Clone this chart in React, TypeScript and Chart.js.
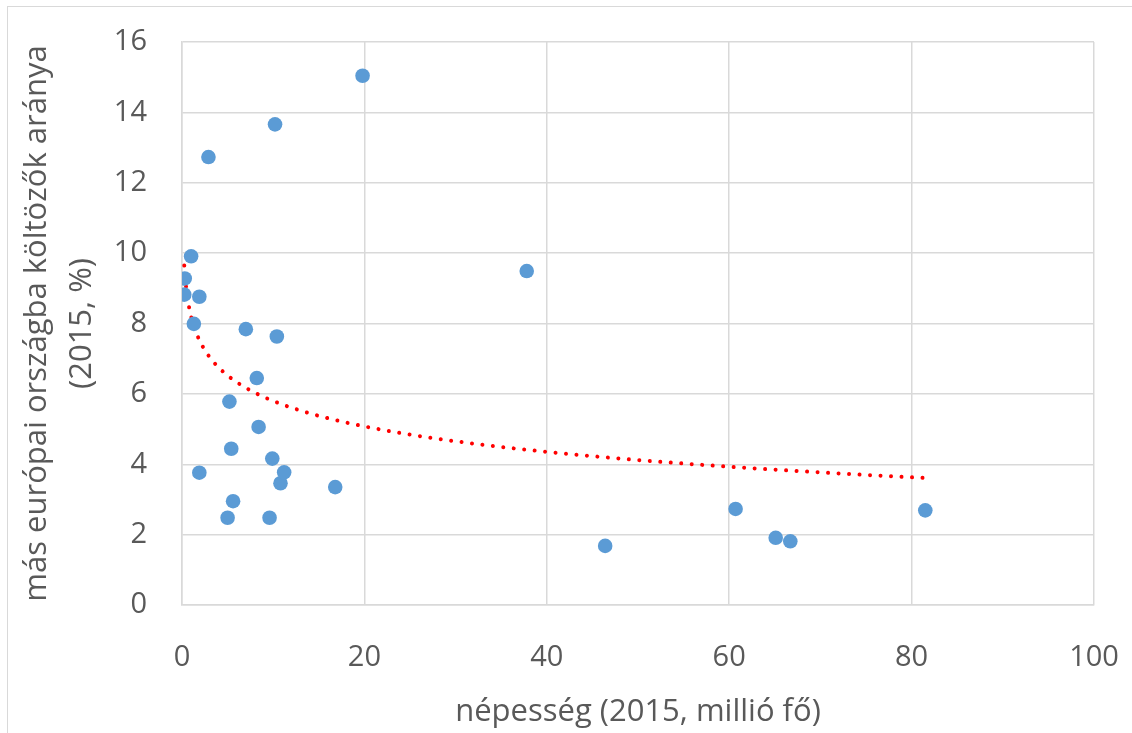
import React, { useEffect, useRef } from 'react';
import { Chart, registerables } from 'chart.js';

Chart.register(...registerables);

// population (2015, million) and share moving to another European country (2015, %)
const population = [
  0.25, 0.3, 1.0, 1.3, 1.9, 1.9, 2.9, 5.0, 5.2, 5.4, 5.6, 7.0, 8.2, 8.4,
  9.6, 9.9, 10.2, 10.4, 10.8, 11.2, 16.8, 19.8, 37.8, 46.4, 60.7, 65.1, 66.7, 81.5,
];
const emigrationShare = [
  8.82, 9.28, 9.91, 7.99, 8.76, 3.76, 12.73, 2.48, 5.78, 4.44, 2.95, 7.84, 6.45, 5.06,
  2.48, 4.16, 13.66, 7.63, 3.46, 3.77, 3.35, 15.04, 9.49, 1.68, 2.73, 1.91, 1.81, 2.69,
];

const xTicks = [0, 20, 40, 60, 80, 100];
const yTicks = [0, 2, 4, 6, 8, 10, 12, 14, 16];

const xTitle = 'népesség (2015, millió fő)';
const yTitle = ['más európai országba költözők aránya', '(2015, %)'];

const TEXT = '#595959';
const GRID = '#D9D9D9';
const FONT = "'Open Sans', sans-serif";

// logarithmic trendline, least squares on ln(x)
function logTrend(xs: number[], ys: number[]) {
  const n = xs.length;
  const lx = xs.map((v) => Math.log(v));
  const mx = lx.reduce((a, b) => a + b, 0) / n;
  const my = ys.reduce((a, b) => a + b, 0) / n;
  let sxy = 0;
  let sxx = 0;
  for (let i = 0; i < n; i++) {
    sxy += (lx[i] - mx) * (ys[i] - my);
    sxx += (lx[i] - mx) * (lx[i] - mx);
  }
  const a = sxy / sxx;
  const b = my - a * mx;
  const lo = Math.log(Math.min(...xs));
  const hi = Math.log(Math.max(...xs));
  const pts: { x: number; y: number }[] = [];
  for (let i = 0; i <= 200; i++) {
    const x = Math.exp(lo + ((hi - lo) * i) / 200);
    pts.push({ x, y: a * Math.log(x) + b });
  }
  return pts;
}

const App: React.FC = () => {
  const canvasRef = useRef<HTMLCanvasElement>(null);

  useEffect(() => {
    document.body.style.margin = '0';
    if (!canvasRef.current) return;
    const ctx = canvasRef.current.getContext('2d');
    if (!ctx) return;

    const chart = new Chart(ctx, {
      type: 'scatter',
      data: {
        datasets: [
          {
            type: 'line',
            data: logTrend(population, emigrationShare),
            borderColor: '#FF0000',
            borderWidth: 4,
            borderDash: [0.01, 10.5],
            borderCapStyle: 'round',
            pointRadius: 0,
            fill: false,
            tension: 0,
            order: 2,
          } as any,
          {
            data: population.map((x, i) => ({ x, y: emigrationShare[i] })),
            backgroundColor: '#5B9BD5',
            borderColor: '#5B9BD5',
            pointRadius: 7.3,
            borderWidth: 0,
            order: 1,
          },
        ],
      },
      options: {
        animation: false,
        responsive: false,
        layout: { padding: { left: 0, top: 42, right: 38, bottom: 0 } },
        plugins: { legend: { display: false }, tooltip: { enabled: false } },
        scales: {
          x: {
            type: 'linear',
            min: 0,
            max: 100,
            afterBuildTicks: (scale: any) => {
              scale.ticks = xTicks.map((value) => ({ value }));
            },
            afterFit: (scale: any) => {
              scale.height = 128;
            },
            grid: {
              color: GRID,
              lineWidth: 1.5,
              drawTicks: true,
              tickLength: 35,
              tickColor: 'rgba(0,0,0,0)',
            },
            border: { color: GRID, width: 1.5 },
            ticks: { color: TEXT, font: { family: FONT, size: 29 }, padding: 0 },
            title: {
              display: true,
              text: xTitle,
              color: TEXT,
              font: { family: FONT, size: 31 },
              padding: { top: 0, bottom: 2 },
            },
          },
          y: {
            type: 'linear',
            min: 0,
            max: 16,
            afterBuildTicks: (scale: any) => {
              scale.ticks = yTicks.map((value) => ({ value }));
            },
            afterFit: (scale: any) => {
              scale.width = 182;
            },
            grid: {
              color: GRID,
              lineWidth: 1.5,
              drawTicks: true,
              tickLength: 35,
              tickColor: 'rgba(0,0,0,0)',
            },
            border: { color: GRID, width: 1.5 },
            ticks: { color: TEXT, font: { family: FONT, size: 29 }, padding: 0 },
            title: {
              display: true,
              text: yTitle,
              color: TEXT,
              font: { family: FONT, size: 31, lineHeight: 1.45 },
              padding: { top: 15, bottom: 0 },
            },
          },
        },
      },
    });

    return () => {
      chart.destroy();
    };
  }, []);

  return (
    <div style={{ position: 'relative', width: 1132, height: 733, overflow: 'hidden', background: '#fff' }}>
      <canvas ref={canvasRef} width={1132} height={733} style={{ display: 'block' }} />
      <div
        style={{
          position: 'absolute',
          left: 7,
          top: 6,
          width: 1200,
          height: 800,
          border: `1.5px solid ${GRID}`,
          pointerEvents: 'none',
        }}
      />
    </div>
  );
};

export default App;
